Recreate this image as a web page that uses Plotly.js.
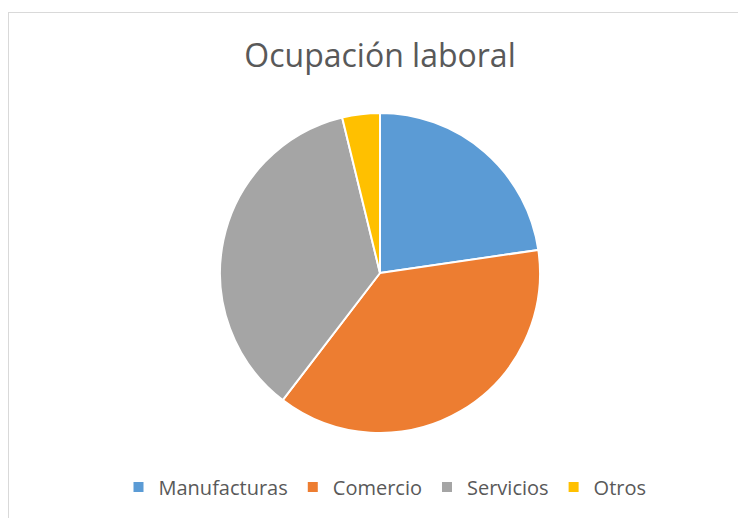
<!DOCTYPE html>
<html>
<head>
<meta charset="utf-8">
<script src="https://cdn.plot.ly/plotly-3.0.1.min.js"></script>
<style>
html,body{margin:0;padding:0;background:#fff;}
#chart{width:738px;height:518px;}
</style>
</head>
<body>
<div id="chart"></div>
<script>
const categories = ["Manufacturas", "Comercio", "Servicios", "Otros"];
const values = [22.7, 37.7, 35.8, 3.8];
const colors = ["#5B9BD5", "#ED7D31", "#A5A5A5", "#FFC000"];
const titleText = "Ocupación laboral";

const W = 738, H = 518;
const trace = {
  type: "pie",
  labels: categories,
  values: values,
  sort: false,
  direction: "clockwise",
  rotation: 0,
  textinfo: "none",
  hoverinfo: "label+percent",
  marker: {colors: colors, line: {color: "#ffffff", width: 2}},
  domain: {x: [220/W, 540/W], y: [1 - 433/H, 1 - 113/H]}
};
const layout = {
  width: W, height: H,
  margin: {l: 0, r: 0, t: 0, b: 0},
  paper_bgcolor: "#ffffff",
  font: {family: "Open Sans, Liberation Sans, sans-serif", color: "#595959"},
  title: {text: titleText, x: 380/W, xanchor: "center", y: 1 - 56/H, yanchor: "middle", yref: "container",
          font: {size: 32, color: "#595959", family: "Open Sans, Liberation Sans, sans-serif"}},
  showlegend: true,
  legend: {orientation: "h", x: 385/W, xanchor: "center", y: 1 - 487/H, yanchor: "middle",
           font: {size: 20, color: "#595959"}, itemwidth: 30, traceorder: "normal"},
  shapes: [
    {type: "line", xref: "paper", yref: "paper", x0: 8/W, x1: 1, y0: 1 - 12.5/H, y1: 1 - 12.5/H, line: {color: "#d9d9d9", width: 1}},
    {type: "line", xref: "paper", yref: "paper", x0: 8.5/W, x1: 8.5/W, y0: 0, y1: 1 - 12/H, line: {color: "#d9d9d9", width: 1}}
  ]
};
Plotly.newPlot("chart", [trace], layout, {staticPlot: true, displayModeBar: false});
</script>
</body>
</html>
